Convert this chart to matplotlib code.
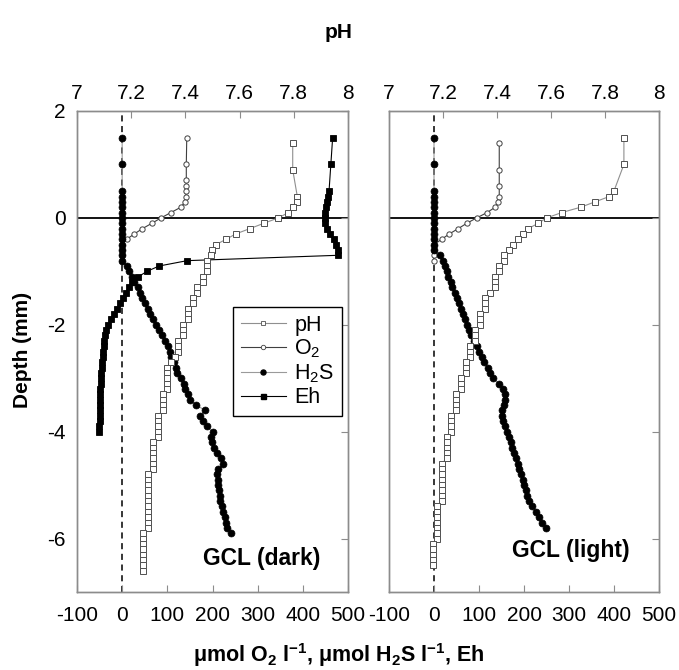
import matplotlib
matplotlib.use('Agg')
import matplotlib.pyplot as plt
from matplotlib.lines import Line2D

plt.rcParams['font.family'] = ['Liberation Sans', 'DejaVu Sans']
plt.rcParams['mathtext.default'] = 'regular'

# ---------------- data ----------------
grid = [0.5, 0.4, 0.3, 0.2, 0.1, 0.0, -0.1, -0.2, -0.3, -0.4,
        -0.5, -0.6, -0.7, -0.8, -0.9, -1.0, -1.1, -1.2, -1.3, -1.4,
        -1.5, -1.6, -1.7, -1.8, -1.9, -2.0, -2.1, -2.2, -2.3, -2.4,
        -2.5, -2.6, -2.7, -2.8, -2.9, -3.0, -3.1, -3.2, -3.3, -3.4,
        -3.5, -3.6, -3.7, -3.8, -3.9, -4.0, -4.1, -4.2, -4.3, -4.4,
        -4.5, -4.6, -4.7, -4.8, -4.9, -5.0, -5.1, -5.2, -5.3, -5.4,
        -5.5, -5.6, -5.7, -5.8, -5.9, -6.0, -6.1, -6.2, -6.3, -6.4,
        -6.5, -6.6]

# left panel: GCL (dark)
depth_pH_L = [1.4, 0.9] + grid[1:72]
pH_L = [7.796, 7.796,
        7.813, 7.813, 7.796, 7.780, 7.743, 7.690, 7.638, 7.586, 7.550, 7.513,
        7.497, 7.493, 7.479, 7.479, 7.479, 7.464, 7.464, 7.444, 7.444, 7.427,
        7.427, 7.410, 7.410, 7.410, 7.390, 7.390, 7.390, 7.374, 7.374, 7.374,
        7.360, 7.346, 7.333, 7.333, 7.333, 7.333, 7.333, 7.316, 7.316, 7.316,
        7.316, 7.300, 7.300, 7.300, 7.300, 7.300, 7.282, 7.282, 7.282, 7.282,
        7.282, 7.282, 7.263, 7.263, 7.263, 7.263, 7.263, 7.263, 7.263, 7.263,
        7.263, 7.263, 7.263, 7.245, 7.245, 7.245, 7.245, 7.245, 7.245, 7.245,
        7.245]
depth_O2_L = [1.5, 1.0, 0.7, 0.6] + grid[0:14]
O2_L = [143, 142, 142, 142, 142, 141, 139, 130, 108, 86, 66, 45, 27, 10, -1, 0, 0, 0]
depth_H2S_L = [1.5, 1.0] + grid[0:65]
H2S_L = [0, 0,
         0, 0, 0, 0, 0, 0, 0, 0, 0, 0, 0, 0, 0, 0,
         10, 15, 21, 27, 34, 40, 45, 50, 57, 62,
         68, 75, 82, 89, 95, 101, 105, 109, 114, 119,
         122, 130, 136, 140, 145, 150, 164, 183, 173, 180,
         187, 200, 196, 198, 203, 209, 218, 223, 213, 211,
         212, 213, 214, 216, 217, 220, 223, 227, 230, 233,
         240]
depth_Eh_L = [1.5, 1.0] + grid[0:46]
Eh_L = [466, 462,
        458, 456, 453, 451, 449, 448, 450, 454, 460, 468, 474, 477, 477,
        144, 82, 55, 36, 22, 15, 8, 2, -4, -12, -19, -25, -31, -35, -38,
        -40, -41, -42, -43, -44, -45, -46, -47, -47, -48, -48, -49, -49,
        -50, -50, -50, -51, -51]

# right panel: GCL (light)
depth_pH_R = [1.5, 1.0] + grid[0:71]
pH_R = [7.870, 7.870,
        7.833, 7.816, 7.763, 7.710, 7.640, 7.584, 7.553, 7.516, 7.497, 7.479,
        7.460, 7.446, 7.426, 7.426, 7.408, 7.408, 7.393, 7.393, 7.393, 7.374,
        7.356, 7.356, 7.356, 7.337, 7.337, 7.337, 7.319, 7.319, 7.319, 7.300,
        7.300, 7.300, 7.285, 7.285, 7.285, 7.266, 7.266, 7.266, 7.248, 7.248,
        7.248, 7.248, 7.231, 7.231, 7.231, 7.231, 7.214, 7.214, 7.214, 7.214,
        7.214, 7.195, 7.195, 7.195, 7.195, 7.195, 7.195, 7.195, 7.195, 7.179,
        7.179, 7.179, 7.179, 7.179, 7.179, 7.179, 7.162, 7.162, 7.162, 7.162,
        7.162]
depth_O2_R = [1.4, 0.9, 0.6] + grid[1:14]
O2_R = [145, 145, 145, 145, 143, 136, 118, 95, 73, 54, 34, 17, 0, 0, 0, 0]
depth_H2S_R = [1.5, 1.0] + grid[0:64]
H2S_R = [0, 0,
         0, 0, 0, 0, 0, 0, 0, 0, 0, 0, 0, 0,
         14, 19, 24, 28, 32, 37, 41, 46, 51, 56,
         60, 65, 69, 73, 78, 83, 88, 96, 101, 107,
         112, 119, 125, 130, 145, 153, 158, 157, 155, 151,
         151, 154, 158, 163, 166, 170, 174, 177, 182, 186,
         189, 193, 197, 201, 204, 207, 212, 218, 227, 234,
         240, 248]

conc_ticks = [-100, 0, 100, 200, 300, 400, 500]
pH_ticks = [7.0, 7.2, 7.4, 7.6, 7.8, 8.0]
pH_ticklabels = ['7', '7.2', '7.4', '7.6', '7.8', '8']
depth_ticks = [2, 0, -2, -4, -6]
legend_labels = ['pH', 'O$_2$', 'H$_2$S', 'Eh']

# ---------------- styles ----------------
SPINE = '#8c8c8c'
st_pH = dict(color='#8f8f8f', lw=0.8, marker='s', ms=4.8, mfc='white', mec='#505050', mew=0.7)
st_O2 = dict(color='#404040', lw=0.8, marker='o', ms=3.8, mfc='white', mec='#404040', mew=0.7)
st_H2S = dict(color='#9a9a9a', lw=0.8, marker='o', ms=5.0, mfc='black', mec='black', mew=0.5)
st_Eh = dict(color='black', lw=0.8, marker='s', ms=5.0, mfc='black', mec='black', mew=0.6)

fig = plt.figure(figsize=(6.79, 6.70), dpi=100)
axL = fig.add_axes([77 / 679, 78 / 670, 271 / 679, 481 / 670])
axR = fig.add_axes([389 / 679, 78 / 670, 270 / 679, 481 / 670])


def setup(ax, show_ylabels):
    ax.set_xlim(-100, 500)
    ax.set_ylim(-7, 2)
    ax.set_xticks(conc_ticks)
    ax.set_xticklabels([str(t) for t in conc_ticks], fontsize=15)
    ax.set_yticks(depth_ticks)
    ax.set_yticklabels([str(t) for t in depth_ticks], fontsize=15)
    ax.tick_params(axis='x', direction='in', length=5, color=SPINE, pad=10)
    ax.tick_params(axis='y', direction='in', length=5, color=SPINE, left=False,
                   right=True, labelleft=show_ylabels, pad=8)
    for s in ax.spines.values():
        s.set_color(SPINE)
        s.set_linewidth(1.0)
    ax.axhline(0, color='black', lw=1.3, zorder=1)
    ax.axvline(0, color='black', lw=1.1, ls=(0, (4, 3)), zorder=1)
    axT = ax.twiny()
    axT.set_xlim(7.0, 8.0)
    axT.set_xticks(pH_ticks)
    axT.set_xticklabels(pH_ticklabels, fontsize=15)
    axT.tick_params(axis='x', direction='in', length=5, color=SPINE, pad=6)
    for s in axT.spines.values():
        s.set_color(SPINE)
        s.set_linewidth(1.0)
    return axT


axLT = setup(axL, True)
axRT = setup(axR, False)

# left panel
axLT.plot(pH_L, depth_pH_L, **st_pH, zorder=2)
axL.plot(O2_L, depth_O2_L, **st_O2, zorder=3)
axL.plot(H2S_L, depth_H2S_L, **st_H2S, zorder=4)
axL.plot(Eh_L, depth_Eh_L, **st_Eh, zorder=5)

# right panel
axRT.plot(pH_R, depth_pH_R, **st_pH, zorder=2)
axR.plot(O2_R, depth_O2_R, **st_O2, zorder=3)
axR.plot(H2S_R, depth_H2S_R, **st_H2S, zorder=4)

# legend
handles = [
    Line2D([], [], color='#8f8f8f', lw=0.8, marker='s', ms=3.2, mfc='white', mec='#505050', mew=0.6),
    Line2D([], [], color='#404040', lw=0.8, marker='o', ms=3.2, mfc='white', mec='#404040', mew=0.6),
    Line2D([], [], color='#9a9a9a', lw=0.8, marker='o', ms=3.6, mfc='black', mec='black'),
    Line2D([], [], color='black', lw=0.8, marker='s', ms=3.6, mfc='black', mec='black'),
]
leg = axLT.legend(handles, legend_labels, loc='upper left',
                  bbox_to_anchor=((233 - 77) / 271, (592 - 307) / 481),
                  borderaxespad=0, fontsize=15.5, frameon=True, fancybox=False,
                  edgecolor='black', framealpha=1, handlelength=2.1,
                  handletextpad=0.4, labelspacing=0.1, borderpad=0.35)
leg.get_frame().set_linewidth(1.0)

axL.text((262 - 77) / 271, (592 - 558) / 481, 'GCL (dark)', transform=axL.transAxes,
         ha='center', va='center', fontsize=16.5, fontweight='bold')
axR.text((571 - 389) / 270, (592 - 551) / 481, 'GCL (light)', transform=axR.transAxes,
         ha='center', va='center', fontsize=16.5, fontweight='bold')

fig.text(339 / 679, 1 - 33 / 670, 'pH', ha='center', va='center', fontsize=15, fontweight='bold')
fig.text(22 / 679, 1 - 350 / 670, 'Depth (mm)', ha='center', va='center', rotation=90,
         fontsize=15, fontweight='bold')
fig.text(339 / 679, 1 - 655 / 670, 'μmol O$_2$ l$^{-1}$, μmol H$_2$S l$^{-1}$, Eh',
         ha='center', va='center', fontsize=15.5, fontweight='bold')

fig.savefig('out.png', dpi=100)
